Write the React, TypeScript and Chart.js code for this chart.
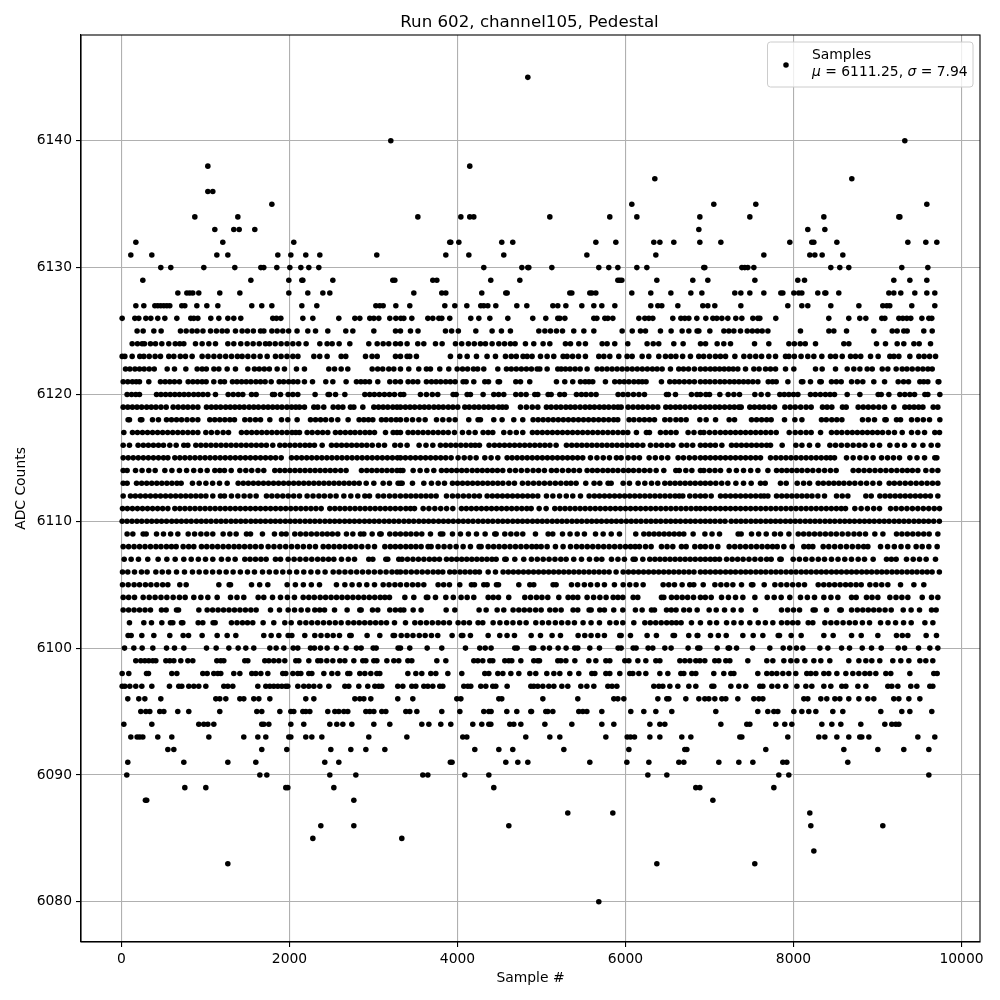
import React, { useEffect, useRef } from "react";
import { Chart, registerables } from "chart.js";

Chart.register(...registerables);

const row6145 = [4837];
const row6140 = [3206, 9325];
const row6138 = [1028, 4146];
const row6137 = [6349, 8694];
const row6136 = [1028, 1087];
const row6135 = [1790, 6075, 7051, 7551, 9587];
const row6134 = [873, 1385, 3528, 4040, 4146, 4194, 5099, 5813, 6135, 6885, 7480, 8361, 9254, 9266];
const row6133 = [1111, 1337, 1401, 1587, 6873, 8170, 8373];
const row6132 = [171, 1206, 2051, 3908, 3920, 4016, 4527, 4658, 5647, 5885, 6337, 6409, 6575, 6885, 7135, 7956, 8218, 8242, 8516, 9361, 9575, 9706];
const row6131 = [111, 361, 1135, 1266, 1861, 2016, 2194, 2361, 3039, 3861, 4135, 4551, 5540, 6361, 7647, 8194, 8254, 8341, 8587];
const row6130 = [468, 587, 980, 1349, 1659, 1694, 1849, 2004, 2135, 2230, 2349, 4313, 4766, 4837, 4849, 5123, 5682, 5801, 5909, 6135, 6254, 6932, 6944, 7385, 7420, 7456, 7528, 8444, 8551, 8658, 9289, 9599];
const row6129 = [254, 1540, 1992, 2147, 2159, 2516, 3230, 3254, 3706, 3754, 4396, 4742, 5909, 5932, 5956, 6373, 6801, 6980, 7540, 8051, 8131, 9194, 9385, 9587];
const row6128 = [671, 778, 813, 849, 920, 1170, 1409, 1992, 2218, 2397, 2480, 3480, 3813, 3861, 4289, 4575, 4591, 5337, 5361, 5575, 5599, 5647, 6075, 6301, 6540, 6778, 6909, 7301, 7373, 7480, 7647, 7849, 7873, 8004, 8063, 8099, 8289, 8373, 8385, 8539, 9135, 9194, 9277, 9444, 9587, 9682];
const row6127 = [171, 266, 397, 432, 468, 504, 540, 575, 718, 754, 897, 1016, 1147, 1551, 1670, 1790, 2147, 2325, 3028, 3075, 3115, 3266, 3432, 3849, 3968, 4111, 4277, 4313, 4361, 4456, 4706, 4825, 5135, 5194, 5290, 5480, 5623, 5718, 5873, 6301, 6385, 6432, 6623, 6920, 6980, 7063, 7373, 7932, 8099, 8170, 8444, 8778, 9063, 9111, 9146, 9408, 9682];
const row6126 = [8, 159, 206, 290, 349, 432, 516, 659, 825, 861, 909, 1063, 1159, 1266, 1337, 1420, 1801, 1845, 1897, 2159, 2278, 2587, 2778, 2837, 2956, 3004, 3063, 3194, 3266, 3325, 3361, 3456, 3647, 3706, 3778, 3813, 3908, 4158, 4254, 4385, 4599, 4896, 5051, 5194, 5218, 5278, 5623, 5659, 5754, 5790, 5849, 6159, 6230, 6278, 6325, 6563, 6659, 6706, 6754, 6849, 6956, 7040, 7087, 7147, 7218, 7313, 7385, 7516, 7575, 7599, 7789, 8420, 8658, 8789, 8861, 9051, 9087, 9254, 9301, 9349, 9396, 9528, 9611, 9646];
const row6125 = [186, 258, 385, 472, 702, 770, 840, 900, 970, 1060, 1130, 1198, 1258, 1357, 1436, 1500, 1570, 1655, 1695, 1790, 1853, 1920, 1990, 2090, 2218, 2310, 2456, 2670, 2754, 3004, 3262, 3321, 3440, 3530, 3857, 3930, 4010, 4218, 4412, 4523, 4630, 4968, 5040, 5107, 5178, 5250, 5384, 5504, 5623, 5960, 6080, 6178, 6238, 6416, 6543, 6674, 6754, 6852, 6873, 7004, 7171, 7230, 7290, 7369, 7449, 7510, 7570, 7627, 7695, 8083, 8421, 8480, 8631, 8956, 9175, 9234, 9313, 9353, 9551, 9651];
const row6124 = [127, 190, 246, 274, 345, 405, 480, 563, 640, 694, 742, 881, 960, 1040, 1119, 1266, 1337, 1420, 1496, 1567, 1640, 1714, 1762, 1830, 1900, 1970, 2040, 2110, 2198, 2361, 2448, 2508, 2591, 2718, 2944, 3044, 3115, 3182, 3262, 3321, 3400, 3527, 3599, 3738, 3817, 3976, 4050, 4130, 4200, 4273, 4333, 4412, 4492, 4560, 4630, 4686, 4809, 4908, 5019, 5099, 5285, 5345, 5444, 5523, 5722, 5781, 5872, 6027, 6257, 6330, 6396, 6575, 6686, 6893, 6953, 7091, 7170, 7250, 7536, 7706, 7945, 8010, 8080, 8140, 8262, 8599, 8659, 8988, 9095, 9234, 9313, 9433, 9496, 9631];
const row6123 = [8, 40, 127, 218, 266, 330, 400, 464, 563, 623, 700, 762, 841, 960, 1030, 1100, 1170, 1240, 1310, 1380, 1436, 1504, 1575, 1650, 1734, 1833, 1900, 1970, 2040, 2100, 2290, 2360, 2448, 2615, 2670, 2905, 2983, 3044, 3262, 3321, 3400, 3432, 3511, 3916, 4027, 4115, 4226, 4352, 4452, 4571, 4640, 4700, 4780, 4829, 4888, 4988, 5067, 5146, 5257, 5305, 5370, 5440, 5523, 5682, 5742, 5813, 5920, 6019, 6079, 6198, 6277, 6396, 6476, 6540, 6600, 6680, 6773, 6872, 6930, 7000, 7070, 7130, 7191, 7302, 7409, 7480, 7550, 7620, 7706, 7786, 7905, 7945, 8010, 8090, 8170, 8242, 8337, 8440, 8500, 8580, 8679, 8738, 8800, 8917, 9008, 9147, 9195, 9254, 9385, 9492, 9555, 9620, 9691];
const row6122 = [48, 100, 160, 215, 270, 330, 390, 544, 631, 766, 901, 960, 1010, 1100, 1159, 1258, 1357, 1504, 1583, 1640, 1700, 1760, 1853, 1940, 2083, 2178, 2468, 2536, 2615, 2694, 2984, 3050, 3110, 3182, 3242, 3321, 3420, 3539, 3630, 3678, 3789, 3896, 3996, 4060, 4120, 4190, 4240, 4313, 4480, 4583, 4640, 4700, 4760, 4820, 4880, 4948, 4980, 5067, 5194, 5234, 5285, 5340, 5400, 5460, 5543, 5662, 5720, 5780, 5840, 5900, 5960, 6020, 6080, 6140, 6200, 6260, 6320, 6376, 6436, 6535, 6634, 6690, 6750, 6820, 6892, 6950, 7010, 7065, 7120, 7175, 7230, 7282, 7337, 7429, 7528, 7590, 7667, 7726, 7786, 7905, 8004, 8262, 8341, 8500, 8639, 8718, 8790, 8877, 8937, 9056, 9123, 9222, 9294, 9350, 9413, 9480, 9540, 9600, 9651];
const row6121 = [20, 75, 130, 175, 214, 325, 464, 520, 575, 630, 690, 794, 850, 905, 960, 1008, 1099, 1178, 1226, 1321, 1375, 1430, 1485, 1540, 1600, 1655, 1710, 1782, 1877, 1930, 1990, 2045, 2099, 2178, 2274, 2432, 2516, 2674, 2797, 2850, 2900, 2952, 3051, 3194, 3260, 3321, 3412, 3470, 3527, 3630, 3690, 3745, 3800, 3860, 3915, 3972, 4067, 4103, 4194, 4325, 4369, 4484, 4500, 4694, 4750, 4860, 5178, 5277, 5372, 5464, 5520, 5565, 5610, 5761, 5872, 5930, 5985, 6040, 6100, 6155, 6200, 6245, 6428, 6527, 6585, 6640, 6700, 6760, 6820, 6892, 6950, 7005, 7065, 7125, 7180, 7240, 7295, 7350, 7405, 7460, 7516, 7576, 7699, 7750, 7794, 7933, 8095, 8111, 8202, 8314, 8330, 8452, 8510, 8568, 8691, 8760, 8825, 8956, 9084, 9246, 9310, 9369, 9504, 9550, 9599, 9722, 9730];
const row6120 = [67, 120, 170, 214, 417, 470, 525, 580, 635, 690, 745, 800, 860, 915, 970, 1028, 1119, 1270, 1330, 1390, 1444, 1548, 1603, 1798, 1821, 1893, 1984, 2040, 2099, 2305, 2460, 2476, 2548, 2659, 2897, 2955, 3010, 3070, 3130, 3190, 3250, 3321, 3360, 3559, 3630, 3700, 3765, 3948, 3984, 4115, 4154, 4305, 4432, 4490, 4551, 4694, 4755, 4817, 4920, 4956, 5079, 5115, 5218, 5273, 5416, 5475, 5530, 5590, 5650, 5912, 5970, 6030, 6095, 6160, 6226, 6488, 6511, 6595, 6785, 6850, 6892, 6957, 7000, 7123, 7222, 7290, 7357, 7540, 7615, 7695, 7837, 7890, 7945, 8000, 8052, 8202, 8260, 8320, 8380, 8435, 8488, 8639, 8790, 9008, 9044, 9135, 9266, 9325, 9385, 9441, 9564, 9599, 9742];
const row6119 = [20, 75, 130, 185, 240, 300, 355, 410, 470, 532, 615, 675, 735, 790, 850, 909, 1012, 1070, 1125, 1180, 1240, 1295, 1350, 1405, 1460, 1520, 1575, 1630, 1690, 1745, 1800, 1855, 1910, 1970, 2025, 2075, 2119, 2178, 2290, 2337, 2408, 2520, 2580, 2635, 2726, 2766, 2873, 3004, 3060, 3115, 3170, 3230, 3280, 3321, 3380, 3435, 3490, 3550, 3605, 3660, 3720, 3775, 3830, 3890, 3945, 4003, 4087, 4140, 4200, 4255, 4315, 4370, 4425, 4490, 4535, 4579, 4750, 4820, 4890, 4956, 5059, 5115, 5175, 5230, 5290, 5345, 5400, 5460, 5520, 5575, 5630, 5690, 5745, 5800, 5860, 5910, 5948, 6031, 6090, 6150, 6205, 6265, 6325, 6384, 6480, 6535, 6595, 6650, 6710, 6770, 6830, 6892, 6950, 7005, 7065, 7120, 7180, 7240, 7295, 7350, 7377, 7480, 7535, 7595, 7650, 7710, 7774, 7897, 7960, 8020, 8085, 8150, 8210, 8345, 8400, 8456, 8583, 8627, 8770, 8830, 8890, 8950, 9015, 9084, 9195, 9325, 9380, 9435, 9490, 9540, 9663, 9718];
const row6118 = [79, 95, 226, 242, 369, 440, 536, 595, 655, 715, 780, 845, 909, 1051, 1110, 1170, 1230, 1290, 1345, 1468, 1530, 1595, 1655, 1766, 1905, 1980, 2091, 2250, 2310, 2370, 2430, 2500, 2575, 2698, 2829, 2885, 2940, 2992, 3095, 3150, 3210, 3270, 3321, 3392, 3465, 3540, 3615, 3750, 3825, 3900, 3972, 4134, 4245, 4273, 4432, 4531, 4670, 4777, 4900, 4960, 5020, 5080, 5140, 5200, 5260, 5320, 5380, 5440, 5500, 5560, 5620, 5680, 5740, 5800, 5860, 5908, 6043, 6100, 6165, 6225, 6285, 6345, 6468, 6530, 6600, 6660, 6722, 6885, 6960, 7072, 7234, 7298, 7500, 7560, 7620, 7680, 7734, 7893, 8016, 8100, 8333, 8390, 8455, 8515, 8576, 8821, 8890, 8964, 9088, 9103, 9226, 9274, 9405, 9475, 9545, 9619, 9742];
const row6117 = [28, 131, 190, 250, 310, 370, 430, 490, 550, 610, 670, 730, 790, 850, 909, 1004, 1070, 1140, 1210, 1274, 1428, 1490, 1550, 1610, 1670, 1730, 1790, 1850, 1910, 1970, 2030, 2075, 2119, 2210, 2270, 2335, 2395, 2456, 2547, 2605, 2665, 2725, 2780, 2840, 2900, 2955, 3012, 3143, 3234, 3280, 3321, 3412, 3470, 3530, 3590, 3650, 3710, 3770, 3830, 3890, 3964, 4059, 4135, 4210, 4305, 4365, 4420, 4551, 4625, 4700, 4777, 4892, 4950, 5010, 5070, 5130, 5190, 5250, 5310, 5370, 5430, 5490, 5550, 5610, 5670, 5730, 5790, 5850, 5910, 5970, 6027, 6130, 6249, 6285, 6416, 6480, 6540, 6602, 6745, 6815, 6892, 6933, 7000, 7065, 7130, 7190, 7250, 7310, 7370, 7430, 7490, 7550, 7610, 7670, 7730, 7794, 7949, 8020, 8085, 8150, 8210, 8322, 8452, 8515, 8575, 8640, 8700, 8760, 8820, 8880, 8940, 9000, 9060, 9130, 9202, 9294, 9405, 9480, 9560, 9682, 9738];
const row6116 = [20, 95, 198, 260, 320, 380, 440, 500, 575, 651, 742, 790, 885, 945, 1005, 1065, 1125, 1185, 1245, 1305, 1365, 1425, 1485, 1545, 1605, 1665, 1725, 1801, 1885, 1945, 2005, 2065, 2125, 2185, 2240, 2297, 2389, 2500, 2560, 2620, 2680, 2740, 2800, 2860, 2920, 2985, 3060, 3131, 3254, 3321, 3400, 3543, 3625, 3706, 3797, 3860, 3920, 3980, 4040, 4100, 4160, 4210, 4261, 4376, 4440, 4500, 4560, 4620, 4680, 4740, 4800, 4860, 4920, 4980, 5040, 5100, 5174, 5297, 5360, 5420, 5480, 5540, 5600, 5660, 5720, 5780, 5840, 5900, 5960, 6020, 6080, 6140, 6206, 6297, 6365, 6430, 6497, 6563, 6666, 6730, 6800, 6892, 6950, 7010, 7070, 7147, 7262, 7320, 7380, 7440, 7500, 7560, 7620, 7680, 7726, 7865, 8028, 8100, 8190, 8290, 8433, 8500, 8570, 8640, 8710, 8780, 8850, 8940, 9024, 9147, 9235, 9322, 9433, 9540, 9639, 9718];
const row6115 = [20, 80, 140, 200, 260, 320, 380, 440, 500, 552, 635, 695, 755, 815, 875, 935, 995, 1055, 1115, 1175, 1235, 1295, 1355, 1415, 1475, 1535, 1595, 1655, 1715, 1775, 1835, 1901, 2024, 2085, 2145, 2205, 2265, 2325, 2385, 2445, 2505, 2565, 2625, 2685, 2745, 2805, 2865, 2925, 2985, 3045, 3105, 3165, 3225, 3285, 3321, 3380, 3440, 3500, 3560, 3620, 3680, 3740, 3800, 3860, 3924, 4007, 4080, 4150, 4222, 4325, 4400, 4480, 4591, 4650, 4710, 4770, 4830, 4890, 4950, 5010, 5070, 5130, 5190, 5250, 5310, 5370, 5430, 5491, 5583, 5660, 5735, 5809, 5892, 5948, 6031, 6100, 6166, 6281, 6355, 6430, 6503, 6626, 6690, 6760, 6825, 6892, 6950, 7010, 7070, 7130, 7190, 7250, 7310, 7370, 7430, 7490, 7550, 7607, 7726, 7790, 7850, 7910, 7970, 8030, 8090, 8150, 8210, 8270, 8330, 8390, 8440, 8488, 8631, 8710, 8790, 8865, 8948, 9048, 9120, 9190, 9262, 9385, 9470, 9560, 9682, 9706];
const row6114 = [20, 67, 167, 245, 325, 401, 516, 600, 690, 775, 860, 940, 1020, 1111, 1170, 1226, 1306, 1409, 1480, 1550, 1625, 1694, 1825, 1885, 1945, 2005, 2065, 2125, 2185, 2245, 2305, 2365, 2425, 2485, 2545, 2610, 2674, 2857, 2920, 2980, 3040, 3100, 3160, 3220, 3280, 3321, 3350, 3472, 3555, 3635, 3718, 3809, 3870, 3930, 3990, 4050, 4110, 4175, 4235, 4295, 4355, 4415, 4475, 4539, 4622, 4690, 4760, 4830, 4900, 4965, 5035, 5118, 5180, 5250, 5320, 5385, 5452, 5543, 5605, 5665, 5730, 5790, 5850, 5910, 5975, 6035, 6095, 6160, 6225, 6290, 6365, 6456, 6599, 6640, 6718, 6790, 6892, 6933, 7000, 7065, 7131, 7234, 7320, 7405, 7490, 7576, 7695, 7798, 7860, 7920, 7980, 8040, 8100, 8165, 8230, 8300, 8370, 8440, 8508, 8710, 8775, 8840, 8905, 8970, 9035, 9100, 9165, 9230, 9295, 9355, 9415, 9480, 9575, 9650, 9718];
const row6113 = [20, 67, 179, 240, 300, 360, 420, 480, 540, 600, 660, 710, 845, 925, 1005, 1085, 1167, 1258, 1389, 1450, 1510, 1570, 1630, 1690, 1750, 1810, 1870, 1930, 1990, 2050, 2110, 2170, 2230, 2290, 2350, 2410, 2470, 2530, 2590, 2650, 2710, 2770, 2830, 2913, 3004, 3115, 3190, 3293, 3321, 3341, 3464, 3599, 3690, 3770, 3845, 3940, 4000, 4060, 4120, 4180, 4240, 4300, 4360, 4420, 4480, 4540, 4610, 4678, 4773, 4840, 4905, 4970, 5035, 5100, 5165, 5230, 5295, 5350, 5412, 5527, 5626, 5694, 5793, 5829, 5972, 6047, 6150, 6230, 6310, 6384, 6468, 6530, 6590, 6650, 6710, 6770, 6830, 6892, 6950, 7010, 7075, 7145, 7218, 7314, 7405, 7496, 7607, 7663, 7845, 7913, 8044, 8120, 8191, 8294, 8355, 8420, 8480, 8540, 8600, 8665, 8730, 8800, 8870, 8945, 9024, 9139, 9200, 9265, 9330, 9395, 9460, 9525, 9590, 9655, 9718];
const row6112 = [20, 107, 165, 225, 285, 345, 405, 465, 525, 585, 645, 705, 765, 825, 885, 945, 1005, 1087, 1178, 1226, 1309, 1385, 1460, 1530, 1603, 1726, 1790, 1855, 1920, 1985, 2050, 2119, 2210, 2280, 2350, 2415, 2485, 2555, 2647, 2730, 2813, 2897, 2952, 3055, 3120, 3190, 3255, 3321, 3385, 3445, 3505, 3565, 3625, 3685, 3746, 3869, 3940, 4005, 4070, 4135, 4200, 4261, 4353, 4415, 4475, 4535, 4595, 4655, 4715, 4775, 4835, 4895, 4956, 5059, 5135, 5215, 5295, 5372, 5464, 5567, 5630, 5690, 5750, 5810, 5870, 5930, 5990, 6050, 6110, 6170, 6230, 6290, 6350, 6410, 6470, 6530, 6590, 6640, 6682, 6765, 6830, 6892, 6950, 7020, 7131, 7190, 7250, 7310, 7370, 7430, 7490, 7550, 7610, 7650, 7695, 7798, 7860, 7920, 7980, 8040, 8100, 8160, 8220, 8290, 8369, 8512, 8580, 8647, 8861, 8925, 9028, 9090, 9150, 9210, 9270, 9330, 9390, 9450, 9510, 9570, 9630, 9718];
const row6111 = [12, 70, 130, 190, 250, 310, 370, 430, 490, 552, 635, 695, 755, 815, 875, 935, 995, 1055, 1115, 1175, 1235, 1295, 1355, 1415, 1475, 1535, 1595, 1655, 1715, 1775, 1835, 1895, 1955, 2015, 2075, 2135, 2195, 2255, 2315, 2377, 2480, 2540, 2600, 2660, 2720, 2780, 2840, 2900, 2960, 3020, 3080, 3140, 3200, 3260, 3321, 3385, 3440, 3488, 3591, 3660, 3730, 3800, 3870, 3944, 4047, 4105, 4165, 4225, 4285, 4345, 4405, 4465, 4525, 4585, 4645, 4705, 4765, 4825, 4877, 4972, 5055, 5158, 5220, 5280, 5340, 5400, 5460, 5520, 5580, 5640, 5700, 5760, 5820, 5880, 5940, 6000, 6060, 6120, 6180, 6240, 6300, 6360, 6420, 6480, 6540, 6600, 6660, 6720, 6780, 6840, 6892, 6950, 7010, 7070, 7130, 7190, 7250, 7310, 7370, 7430, 7490, 7550, 7610, 7670, 7730, 7790, 7850, 7910, 7970, 8030, 8090, 8150, 8210, 8270, 8330, 8390, 8450, 8510, 8568, 8619, 8730, 8805, 8880, 8955, 9024, 9155, 9220, 9285, 9350, 9415, 9480, 9545, 9610, 9675, 9738];
const row6110 = [8, 66, 125, 184, 241, 302, 360, 419, 477, 536, 598, 655, 713, 772, 830, 892, 950, 1008, 1066, 1127, 1185, 1243, 1304, 1361, 1420, 1478, 1540, 1597, 1655, 1714, 1775, 1832, 1890, 1951, 2009, 2067, 2125, 2186, 2244, 2302, 2361, 2422, 2480, 2538, 2596, 2657, 2715, 2773, 2832, 2893, 2951, 3009, 3067, 3128, 3186, 3244, 3302, 3363, 3421, 3479, 3540, 3598, 3656, 3714, 3775, 3833, 3891, 3950, 4011, 4069, 4127, 4185, 4246, 4304, 4362, 4420, 4481, 4539, 4597, 4658, 4716, 4774, 4832, 4893, 4951, 5009, 5067, 5128, 5186, 5244, 5302, 5363, 5421, 5479, 5540, 5598, 5656, 5714, 5775, 5833, 5891, 5949, 6010, 6068, 6126, 6184, 6245, 6303, 6361, 6419, 6480, 6538, 6596, 6654, 6715, 6773, 6831, 6892, 6950, 7008, 7066, 7127, 7185, 7258, 7316, 7374, 7432, 7493, 7551, 7609, 7670, 7728, 7786, 7844, 7905, 7963, 8021, 8079, 8140, 8198, 8256, 8314, 8375, 8433, 8491, 8552, 8610, 8668, 8726, 8787, 8845, 8903, 8961, 9022, 9080, 9138, 9199, 9257, 9315, 9373, 9434, 9492, 9550, 9608, 9669, 9736];
const row6109 = [67, 135, 258, 294, 417, 500, 585, 671, 794, 870, 945, 1015, 1087, 1210, 1290, 1365, 1488, 1536, 1678, 1821, 1905, 1960, 2063, 2130, 2195, 2260, 2325, 2390, 2450, 2510, 2575, 2678, 2754, 2845, 2885, 2984, 3075, 3091, 3194, 3260, 3321, 3385, 3445, 3510, 3575, 3678, 3797, 3825, 3940, 4035, 4130, 4226, 4329, 4444, 4460, 4563, 4635, 4705, 4777, 4928, 5079, 5134, 5250, 5340, 5425, 5511, 5643, 5734, 5830, 5928, 6122, 6218, 6280, 6340, 6400, 6460, 6520, 6580, 6640, 6694, 6805, 6945, 7030, 7119, 7341, 7377, 7500, 7585, 7675, 7774, 7845, 7945, 8056, 8120, 8185, 8250, 8315, 8380, 8445, 8510, 8580, 8650, 8720, 8786, 8857, 8968, 9064, 9226, 9290, 9355, 9420, 9485, 9550, 9615, 9718];
const row6108 = [20, 85, 150, 215, 280, 345, 410, 470, 535, 595, 651, 734, 800, 861, 952, 1015, 1080, 1145, 1210, 1275, 1340, 1400, 1465, 1530, 1595, 1663, 1746, 1815, 1885, 1955, 2025, 2095, 2165, 2238, 2309, 2401, 2465, 2530, 2595, 2660, 2725, 2790, 2860, 2935, 3012, 3135, 3200, 3260, 3321, 3385, 3445, 3505, 3567, 3650, 3686, 3769, 3840, 3910, 3984, 4067, 4154, 4257, 4281, 4365, 4430, 4495, 4560, 4625, 4690, 4755, 4820, 4885, 4940, 4996, 5067, 5166, 5257, 5345, 5416, 5480, 5545, 5610, 5675, 5740, 5805, 5870, 5935, 6000, 6060, 6115, 6166, 6238, 6305, 6428, 6495, 6563, 6666, 6722, 6825, 6892, 6950, 7020, 7099, 7234, 7300, 7365, 7430, 7495, 7560, 7625, 7690, 7750, 7806, 7885, 7984, 8123, 8180, 8230, 8353, 8420, 8490, 8560, 8630, 8700, 8770, 8835, 8885, 9036, 9120, 9200, 9280, 9361, 9460, 9532, 9611, 9710];
const row6107 = [32, 115, 202, 313, 436, 540, 639, 742, 830, 915, 1000, 1087, 1190, 1270, 1353, 1468, 1530, 1595, 1660, 1722, 1833, 1893, 1984, 2055, 2125, 2195, 2265, 2335, 2400, 2465, 2528, 2619, 2700, 2774, 2944, 2992, 3147, 3170, 3301, 3340, 3405, 3470, 3535, 3600, 3665, 3725, 3785, 3869, 3930, 3990, 4050, 4110, 4170, 4230, 4290, 4350, 4410, 4460, 4563, 4579, 4682, 4789, 4880, 4950, 5020, 5090, 5160, 5230, 5293, 5384, 5476, 5571, 5654, 5718, 5833, 5910, 5987, 6091, 6115, 6206, 6289, 6350, 6410, 6470, 6530, 6590, 6650, 6710, 6770, 6830, 6892, 6950, 7010, 7065, 7119, 7203, 7270, 7335, 7400, 7470, 7540, 7610, 7680, 7734, 7838, 7853, 7996, 8070, 8145, 8220, 8295, 8369, 8452, 8530, 8610, 8690, 8770, 8845, 8948, 9107, 9165, 9222, 9345, 9425, 9500, 9579, 9690];
const row6106 = [12, 75, 155, 238, 305, 409, 485, 560, 655, 750, 845, 925, 1005, 1085, 1165, 1246, 1329, 1415, 1500, 1583, 1679, 1760, 1840, 1920, 2000, 2085, 2170, 2255, 2337, 2424, 2520, 2590, 2660, 2730, 2800, 2870, 2940, 3010, 3080, 3150, 3220, 3280, 3321, 3385, 3450, 3515, 3580, 3645, 3710, 3770, 3825, 3908, 3965, 4030, 4090, 4150, 4210, 4261, 4365, 4452, 4543, 4605, 4665, 4725, 4785, 4845, 4905, 4965, 5025, 5085, 5145, 5205, 5265, 5325, 5385, 5445, 5505, 5565, 5625, 5685, 5745, 5805, 5888, 5972, 6035, 6095, 6155, 6215, 6275, 6335, 6395, 6455, 6515, 6575, 6635, 6695, 6755, 6815, 6892, 6950, 7010, 7071, 7130, 7192, 7251, 7310, 7372, 7431, 7490, 7552, 7611, 7670, 7732, 7791, 7850, 7912, 7971, 8030, 8092, 8151, 8210, 8272, 8331, 8390, 8452, 8511, 8570, 8632, 8691, 8750, 8812, 8871, 8930, 8992, 9051, 9110, 9172, 9231, 9290, 9352, 9411, 9470, 9532, 9591, 9650, 9736];
const row6105 = [12, 80, 150, 215, 285, 350, 420, 490, 552, 694, 770, 1159, 1282, 1298, 1548, 1645, 1742, 1972, 2070, 2165, 2260, 2357, 2559, 2659, 2745, 2830, 2920, 3012, 3115, 3185, 3255, 3321, 3395, 3465, 3530, 3599, 3769, 3835, 3904, 4027, 4166, 4202, 4313, 4353, 4464, 4488, 4730, 4861, 4908, 5138, 5174, 5357, 5430, 5510, 5585, 5665, 5749, 5868, 5972, 6050, 6126, 6210, 6448, 6515, 6583, 6674, 6765, 6813, 6925, 7064, 7135, 7205, 7278, 7381, 7500, 7516, 7651, 7778, 7850, 7920, 7990, 8060, 8131, 8294, 8360, 8425, 8490, 8555, 8620, 8680, 8745, 8806, 8909, 8980, 9050, 9123, 9274, 9433, 9551];
const row6104 = [20, 85, 155, 258, 330, 400, 470, 540, 615, 690, 758, 861, 945, 1028, 1139, 1298, 1375, 1456, 1627, 1694, 1798, 1893, 1975, 2059, 2163, 2230, 2295, 2365, 2430, 2495, 2560, 2625, 2690, 2755, 2820, 2885, 2950, 3015, 3080, 3135, 3190, 3373, 3480, 3630, 3646, 3738, 3861, 3950, 4043, 4115, 4194, 4365, 4425, 4488, 4610, 4801, 4870, 4940, 5005, 5075, 5206, 5317, 5375, 5432, 5543, 5620, 5695, 5769, 5853, 5910, 5968, 6091, 6146, 6428, 6456, 6547, 6610, 6675, 6740, 6810, 6892, 6950, 7020, 7143, 7225, 7310, 7397, 7540, 7687, 7770, 7853, 7956, 8083, 8165, 8250, 8361, 8445, 8528, 8691, 8746, 8869, 8935, 9004, 9147, 9220, 9290, 9361, 9532, 9643, 9718];
const row6103 = [20, 85, 150, 215, 280, 345, 476, 532, 655, 679, 921, 1020, 1085, 1150, 1215, 1280, 1345, 1410, 1475, 1540, 1603, 1774, 1881, 1984, 2060, 2139, 2218, 2301, 2360, 2417, 2536, 2686, 2837, 2853, 2988, 3051, 3194, 3260, 3321, 3361, 3472, 3567, 3865, 3968, 4257, 4341, 4472, 4551, 4662, 4730, 4795, 4860, 4930, 4996, 5099, 5165, 5234, 5376, 5432, 5567, 5591, 5694, 5749, 5860, 5968, 6118, 6198, 6309, 6345, 6488, 6545, 6602, 6694, 6761, 6853, 6996, 7080, 7179, 7282, 7377, 7548, 7857, 7930, 8000, 8072, 8234, 8258, 8393, 8552, 8568, 8691, 8760, 8825, 8890, 8955, 9020, 9090, 9163, 9306, 9400, 9500, 9643, 9698];
const row6102 = [95, 266, 357, 480, 583, 611, 714, 730, 913, 968, 1091, 1115, 1309, 1375, 1440, 1500, 1563, 1686, 1813, 1944, 2020, 2123, 2195, 2265, 2335, 2405, 2475, 2545, 2615, 2698, 2765, 2830, 2895, 2960, 3025, 3090, 3155, 3250, 3381, 3492, 3560, 3630, 3700, 3770, 3835, 3904, 4007, 4075, 4142, 4245, 4301, 4424, 4505, 4585, 4660, 4740, 4817, 4932, 5010, 5085, 5165, 5240, 5315, 5392, 5495, 5590, 5690, 5813, 5890, 5968, 6099, 6230, 6295, 6360, 6425, 6490, 6550, 6605, 6662, 6785, 6892, 7004, 7084, 7203, 7290, 7377, 7480, 7580, 7665, 7754, 7857, 7925, 7990, 8052, 8175, 8230, 8373, 8445, 8515, 8590, 8665, 8735, 8820, 8905, 9036, 9125, 9215, 9310, 9401, 9564, 9659];
const row6101 = [79, 115, 242, 385, 575, 734, 798, 960, 1139, 1258, 1361, 1694, 1782, 1873, 1984, 2028, 2182, 2301, 2375, 2450, 2520, 2595, 2718, 2734, 2924, 3075, 3234, 3250, 3330, 3400, 3470, 3545, 3615, 3690, 3765, 3936, 4047, 4063, 4154, 4365, 4503, 4590, 4678, 4877, 4988, 5126, 5226, 5436, 5515, 5590, 5670, 5749, 5932, 5948, 6059, 6257, 6368, 6567, 6583, 6753, 6853, 6861, 7012, 7105, 7199, 7397, 7520, 7635, 7818, 7833, 7972, 8091, 8361, 8472, 8691, 8806, 9004, 9226, 9295, 9361, 9579, 9702];
const row6100 = [36, 147, 246, 373, 536, 631, 742, 1012, 1127, 1278, 1389, 1480, 1575, 1766, 1841, 1932, 2044, 2099, 2250, 2297, 2369, 2448, 2559, 2674, 2797, 2853, 2996, 3032, 3293, 3321, 3432, 3639, 3813, 4095, 4265, 4330, 4400, 4682, 4710, 4880, 4908, 5019, 5095, 5198, 5293, 5396, 5432, 5575, 5690, 5912, 5948, 6091, 6126, 6269, 6325, 6468, 6543, 6745, 6860, 6885, 7091, 7222, 7238, 7322, 7512, 7718, 7877, 7955, 8035, 8111, 8314, 8409, 8572, 8667, 8818, 8929, 9044, 9246, 9322, 9488, 9623, 9718];
const row6099 = [170, 230, 278, 325, 373, 409, 528, 575, 623, 706, 790, 849, 1135, 1182, 1218, 1468, 1504, 1706, 1754, 1813, 1873, 1944, 2075, 2111, 2230, 2337, 2373, 2444, 2516, 2599, 2659, 2766, 2873, 2909, 3004, 3040, 3159, 3242, 3301, 3409, 3456, 3754, 3861, 4194, 4242, 4301, 4385, 4420, 4563, 4611, 4646, 4754, 4908, 4956, 4976, 5194, 5230, 5290, 5397, 5563, 5647, 5766, 5813, 5992, 6040, 6147, 6242, 6361, 6409, 6647, 6706, 6766, 6837, 6885, 6944, 7063, 7111, 7194, 7242, 7456, 7682, 7754, 7885, 7968, 8040, 8135, 8242, 8325, 8432, 8658, 8778, 8861, 8932, 9027, 9182, 9277, 9373, 9504, 9575, 9658];
const row6098 = [8, 87, 298, 321, 599, 659, 968, 1020, 1099, 1147, 1182, 1337, 1409, 1551, 1599, 1659, 1742, 1920, 1956, 2040, 2099, 2135, 2230, 2266, 2409, 2504, 2575, 2694, 2718, 2837, 2897, 2968, 3040, 3075, 3409, 3504, 3575, 3682, 3742, 3885, 4051, 4325, 4373, 4480, 4540, 4635, 4730, 4861, 4932, 5063, 5147, 5218, 5337, 5444, 5599, 5635, 5766, 5813, 5932, 6051, 6087, 6159, 6242, 6409, 6504, 6659, 6694, 6790, 6837, 7051, 7170, 7254, 7290, 7575, 7682, 7742, 7801, 7873, 7944, 8027, 8158, 8206, 8266, 8361, 8420, 8516, 8623, 8706, 8778, 8849, 8908, 8980, 9099, 9158, 9385, 9670, 9710];
const row6097 = [8, 40, 99, 170, 242, 361, 571, 682, 718, 801, 861, 920, 1004, 1218, 1266, 1325, 1623, 1718, 1766, 1813, 1861, 1909, 1956, 1980, 2099, 2170, 2230, 2290, 2361, 2468, 2659, 2706, 2825, 2932, 3016, 3063, 3099, 3289, 3349, 3456, 3504, 3599, 3647, 3706, 3789, 3825, 4075, 4123, 4158, 4277, 4337, 4420, 4456, 4591, 4873, 4908, 4956, 5016, 5087, 5147, 5242, 5313, 5468, 5540, 5623, 5790, 5840, 5897, 6337, 6397, 6444, 6528, 6623, 6754, 6837, 7028, 7051, 7254, 7349, 7432, 7599, 7635, 7742, 7813, 7908, 8040, 8147, 8218, 8361, 8444, 8575, 8623, 8766, 8861, 9123, 9170, 9242, 9396, 9468, 9623, 9658];
const row6096 = [75, 206, 278, 468, 1123, 1170, 1242, 1409, 1456, 1575, 1635, 1766, 2194, 2290, 2778, 2837, 2885, 2968, 3289, 3468, 3992, 4040, 4492, 4527, 5016, 5432, 5861, 5909, 5980, 6385, 6492, 6516, 6718, 6873, 6944, 6992, 7063, 7147, 7194, 7337, 7528, 7587, 7635, 8123, 8170, 8325, 8396, 8492, 8551, 8658, 8778, 8885, 8956, 9194, 9254, 9373, 9504];
const row6095 = [230, 290, 337, 456, 504, 670, 801, 1170, 1611, 1670, 1885, 2016, 2051, 2159, 2194, 2242, 2456, 2540, 2587, 2647, 2694, 2909, 2956, 3004, 3099, 3147, 3385, 3432, 3516, 3813, 4028, 4313, 4373, 4400, 4587, 4706, 4873, 4881, 5051, 5075, 5135, 5444, 5492, 5540, 5718, 6063, 6218, 6361, 6551, 7075, 7575, 7694, 7766, 7813, 8004, 8099, 8182, 8266, 8468, 8587, 9039, 9289, 9385, 9646];
const row6094 = [28, 361, 920, 980, 1028, 1099, 1670, 1694, 1754, 2016, 2170, 2480, 2563, 2635, 2742, 3004, 3194, 3575, 3659, 3801, 3920, 4182, 4289, 4373, 4397, 4623, 4670, 4754, 5040, 5361, 5718, 5861, 6290, 6409, 6468, 7135, 7444, 7480, 7789, 7896, 7980, 8337, 8456, 8563, 8801, 9087, 9170, 9218, 9254];
const row6093 = [111, 186, 218, 254, 432, 599, 1040, 1456, 1623, 1718, 1992, 2016, 2194, 2266, 2385, 2944, 3397, 4063, 4111, 4813, 5099, 5218, 5766, 6020, 6059, 6107, 6290, 6409, 6670, 6778, 7361, 7385, 7932, 8301, 8373, 8516, 8658, 8789, 8813, 8897, 9480, 9682];
const row6092 = [552, 623, 1670, 1968, 2492, 2730, 2909, 3135, 4206, 4492, 4658, 5266, 6040, 6706, 6730, 7670, 8599, 9004, 9313, 9611];
const row6091 = [75, 742, 1266, 1599, 2420, 2587, 3915, 3935, 4575, 4718, 4837, 5575, 6016, 6278, 6635, 6694, 7111, 7349, 7516, 7873, 7920, 8646];
const row6090 = [63, 1647, 1730, 2480, 2790, 3587, 3647, 4087, 4373, 6266, 6492, 7825, 7944, 9611];
const row6089 = [754, 1004, 1956, 1980, 2528, 4432, 6837, 6885, 7766];
const row6088 = [285, 300, 2766, 7040];
const row6087 = [5313, 5849, 8194];
const row6086 = [2373, 2766, 4611, 8206, 9063];
const row6085 = [2278, 3337];
const row6084 = [8242];
const row6083 = [1266, 6373, 7539];
const row6080 = [5682];

const rowValues = [6145, 6140, 6138, 6137, 6136, 6135, 6134, 6133, 6132, 6131, 6130, 6129, 6128, 6127, 6126, 6125, 6124, 6123, 6122, 6121, 6120, 6119, 6118, 6117, 6116, 6115, 6114, 6113, 6112, 6111, 6110, 6109, 6108, 6107, 6106, 6105, 6104, 6103, 6102, 6101, 6100, 6099, 6098, 6097, 6096, 6095, 6094, 6093, 6092, 6091, 6090, 6089, 6088, 6087, 6086, 6085, 6084, 6083, 6080];
const rowSamples = [row6145, row6140, row6138, row6137, row6136, row6135, row6134, row6133, row6132, row6131, row6130, row6129, row6128, row6127, row6126, row6125, row6124, row6123, row6122, row6121, row6120, row6119, row6118, row6117, row6116, row6115, row6114, row6113, row6112, row6111, row6110, row6109, row6108, row6107, row6106, row6105, row6104, row6103, row6102, row6101, row6100, row6099, row6098, row6097, row6096, row6095, row6094, row6093, row6092, row6091, row6090, row6089, row6088, row6087, row6086, row6085, row6084, row6083, row6080];

const xTicks = [0, 2000, 4000, 6000, 8000, 10000];
const yTicks = [6080, 6090, 6100, 6110, 6120, 6130, 6140];
const chartTitle = "Run 602, channel105, Pedestal";
const xTitle = "Sample #";
const yTitle = "ADC Counts";
const legendLabel = "Samples";

const FONT = '"DejaVu Sans"';

const decor = {
  id: "decor",
  afterDraw(chart: any) {
    const { ctx, chartArea: a } = chart;
    ctx.save();
    ctx.strokeStyle = "#000";
    ctx.lineWidth = 1.1;
    ctx.strokeRect(a.left, a.top, a.right - a.left, a.bottom - a.top);
    ctx.fillStyle = "#000";
    ctx.textBaseline = "alphabetic";
    ctx.textAlign = "center";
    ctx.font = `16.67px ${FONT}`;
    ctx.fillText(chartTitle, (a.left + a.right) / 2 - 1, 27);

    const bx = 767.5, by = 42, bw = 205.5, bh = 45;
    ctx.beginPath();
    ctx.roundRect(bx, by, bw, bh, 3);
    ctx.fillStyle = "rgba(255,255,255,0.8)";
    ctx.fill();
    ctx.strokeStyle = "#ccc";
    ctx.lineWidth = 1;
    ctx.stroke();
    ctx.fillStyle = "#000";
    ctx.beginPath();
    ctx.arc(786, 65, 2.78, 0, Math.PI * 2);
    ctx.fill();
    ctx.textAlign = "left";
    ctx.font = `13.89px ${FONT}`;
    ctx.fillText(legendLabel, 812, 59);
    let x = 812;
    const y = 76;
    const parts: [string, boolean][] = [["μ", true], [" = 6111.25, ", false], ["σ", true], [" = 7.94", false]];
    for (const [t, it] of parts) {
      ctx.font = `${it ? "italic " : ""}13.89px ${FONT}`;
      ctx.fillText(t, x, y);
      x += ctx.measureText(t).width;
    }
    ctx.restore();
  },
};

export default function App() {
  const ref = useRef<HTMLCanvasElement>(null);
  useEffect(() => {
    document.body.style.margin = "0";
    const points = rowValues.flatMap((v, i) => rowSamples[i].map((s) => ({ x: s, y: v })));
    const chart = new Chart(ref.current!, {
      type: "scatter",
      data: {
        datasets: [
          {
            label: legendLabel,
            data: points,
            backgroundColor: "#000",
            borderWidth: 0,
            pointRadius: 2.78,
          },
        ],
      },
      plugins: [decor],
      options: {
        animation: false,
        responsive: false,
        layout: { padding: { top: 35, right: 20, left: 0, bottom: 0 } },
        plugins: { legend: { display: false }, title: { display: false }, tooltip: { enabled: false } },
        scales: {
          x: {
            type: "linear",
            min: -482,
            max: 10220,
            afterBuildTicks: (s: any) => {
              s.ticks = xTicks.map((value) => ({ value }));
            },
            afterFit: (s: any) => {
              s.height = 58;
            },
            title: { display: true, text: xTitle, color: "#000", font: { family: FONT, size: 13.89 }, padding: { top: 4, bottom: 13 } },
            grid: { color: "#b0b0b0", lineWidth: 1.1, tickColor: "#000", tickLength: 5, tickWidth: 1.1 },
            border: { color: "#000", width: 1.1 },
            ticks: { color: "#000", font: { family: FONT, size: 13.89 }, padding: 4, maxRotation: 0, autoSkip: false, callback: (v: any) => String(v) },
          },
          y: {
            type: "linear",
            min: 6076.83,
            max: 6148.34,
            afterBuildTicks: (s: any) => {
              s.ticks = yTicks.map((value) => ({ value }));
            },
            afterFit: (s: any) => {
              s.width = 81;
            },
            title: { display: true, text: yTitle, color: "#000", font: { family: FONT, size: 13.89 }, padding: { top: 13, bottom: 4 } },
            grid: { color: "#b0b0b0", lineWidth: 1.1, tickColor: "#000", tickLength: 5, tickWidth: 1.1 },
            border: { color: "#000", width: 1.1 },
            ticks: { color: "#000", font: { family: FONT, size: 13.89 }, padding: 4, autoSkip: false, callback: (v: any) => String(v) },
          },
        },
      },
    } as any);
    return () => chart.destroy();
  }, []);
  return <canvas ref={ref} width={1000} height={1000} style={{ display: "block" }} />;
}
